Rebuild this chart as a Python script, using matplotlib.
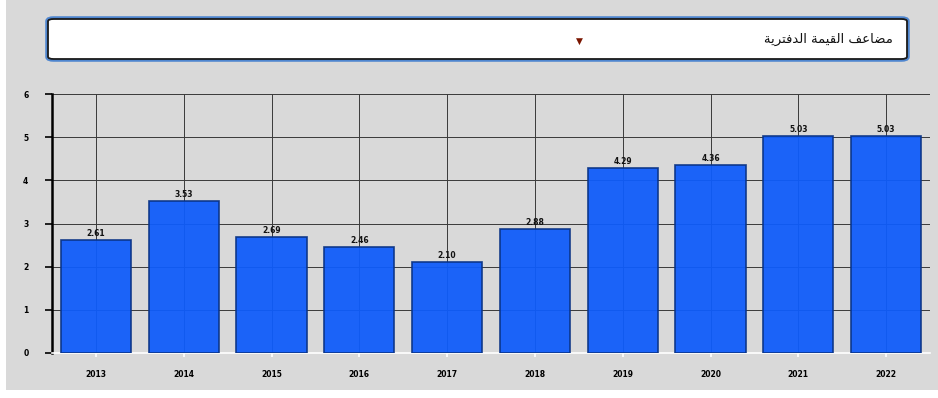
import matplotlib
matplotlib.use("Agg")
import matplotlib.pyplot as plt
from matplotlib.patches import FancyBboxPatch, Rectangle

years = ["2013", "2014", "2015", "2016", "2017", "2018", "2019", "2020", "2021", "2022"]
pb_values = [2.61, 3.53, 2.69, 2.46, 2.10, 2.88, 4.29, 4.36, 5.03, 5.03]
value_labels = ["2.61", "3.53", "2.69", "2.46", "2.10", "2.88", "4.29", "4.36", "5.03", "5.03"]
y_ticks = [0, 1, 2, 3, 4, 5, 6]

# "مضاعف القيمة الدفترية" pre-shaped (presentation forms), visual order
logical = ("\uFEE3\uFEC0\uFE8E\uFECB\uFED2" + " "
           + "\uFE8D\uFEDF\uFED8\uFEF4\uFEE4\uFE94" + " "
           + "\uFE8D\uFEDF\uFEAA\uFED3\uFE98\uFEAE\uFEF3\uFE94")
title_text = logical[::-1]

W, H = 938, 398
fig = plt.figure(figsize=(W / 100, H / 100), dpi=100, facecolor="white")

def fx(px):
    return px / W

def fy(py):
    return 1 - py / H

# gray panel
fig.patches.append(Rectangle((fx(6), fy(390)), fx(932), 390 / H, transform=fig.transFigure,
                             facecolor="#d9d9d9", edgecolor="none", zorder=-10))

# dropdown box
glow = FancyBboxPatch((fx(48), fy(59)), fx(859), 40 / H, transform=fig.transFigure,
                      boxstyle="round,pad=0,rounding_size=0.006", facecolor="none",
                      edgecolor="#4f86cf", linewidth=4, zorder=-9)
box = FancyBboxPatch((fx(48), fy(59)), fx(859), 40 / H, transform=fig.transFigure,
                     boxstyle="round,pad=0,rounding_size=0.006", facecolor="white",
                     edgecolor="#1a1a1a", linewidth=1.3, zorder=-8)
fig.patches.extend([glow, box])
fig.text(fx(893), fy(39), title_text, ha="right", va="center", fontsize=9.5,
         family="DejaVu Sans", color="#111111", zorder=3)
fig.text(fx(579), fy(41), "\u25BC", ha="center", va="center", fontsize=6.5,
         color="#7a1500", zorder=3)

ax = fig.add_axes([fx(52), fy(353), fx(878), (353 - 94) / H])
ax.set_facecolor("none")

x = list(range(len(years)))
bars = ax.bar(x, pb_values, width=0.8, color="#0f5cfb", edgecolor="#0a3385",
              linewidth=1.2, alpha=0.94, zorder=3)
for xi, v, lab in zip(x, pb_values, value_labels):
    ax.annotate(lab, (xi, v), xytext=(0, 1.5), textcoords="offset points",
                ha="center", va="bottom", fontsize=5.5, fontweight="bold", color="#111111")

ax.set_xlim(-0.5, len(years) - 0.5)
ax.set_ylim(0, 6)
ax.set_yticks(y_ticks)
ax.set_xticks(x)
ax.set_xticklabels(years)
ax.grid(True, color="#3a3a3a", linewidth=0.7, zorder=1)
ax.set_axisbelow(True)

for s in ["top", "right"]:
    ax.spines[s].set_visible(False)
ax.spines["left"].set_color("black")
ax.spines["left"].set_linewidth(1.8)
ax.spines["bottom"].set_color("white")
ax.spines["bottom"].set_linewidth(1.2)

ax.tick_params(axis="y", length=5, width=1.2, color="black", pad=12,
               labelsize=5.5)
ax.tick_params(axis="x", length=3, width=1.2, color="white", pad=9,
               labelsize=5.5)
for lab in ax.get_xticklabels() + ax.get_yticklabels():
    lab.set_fontweight("bold")

fig.savefig("out.png", dpi=100, facecolor=fig.get_facecolor())
